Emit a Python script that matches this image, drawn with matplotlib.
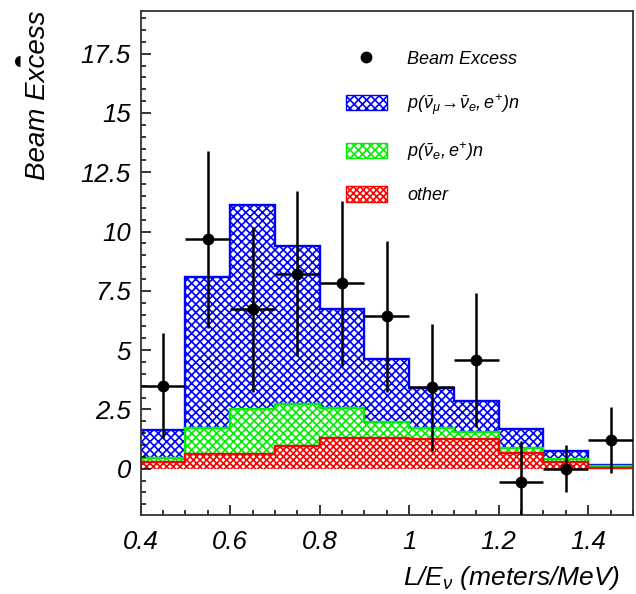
import numpy as np
import matplotlib
matplotlib.use("Agg")
import matplotlib.pyplot as plt
from matplotlib.lines import Line2D
from matplotlib.patches import Patch
from matplotlib.ticker import MultipleLocator, FormatStrFormatter

plt.rcParams['font.family'] = ['Liberation Sans', 'DejaVu Sans']
plt.rcParams['font.style'] = 'italic'
plt.rcParams['mathtext.fontset'] = 'custom'
plt.rcParams['mathtext.rm'] = 'Liberation Sans:italic'
plt.rcParams['mathtext.it'] = 'Liberation Sans:italic'
plt.rcParams['hatch.linewidth'] = 1.2

# bin edges in L/E (meters/MeV)
edges = [0.4, 0.5, 0.6, 0.7, 0.8, 0.9, 1.0, 1.1, 1.2, 1.3, 1.4, 1.5]
# expected backgrounds / signal per bin
other = [0.30, 0.63, 0.63, 0.97, 1.30, 1.30, 1.27, 1.27, 0.68, 0.30, 0.05]
nue = [0.16, 1.10, 1.90, 1.77, 1.27, 0.68, 0.46, 0.29, 0.21, 0.12, 0.05]
osc = [1.19, 6.37, 8.57, 6.66, 4.18, 2.66, 1.69, 1.31, 0.80, 0.34, 0.07]
# beam excess data
x_data = [0.45, 0.55, 0.65, 0.75, 0.85, 0.95, 1.05, 1.15, 1.25, 1.35, 1.45]
y_data = [3.5, 9.68, 6.72, 8.23, 7.83, 6.42, 3.43, 4.57, -0.55, 0.0, 1.22]
y_err = [2.22, 3.73, 3.47, 3.47, 3.48, 3.17, 2.67, 2.83, 1.7, 1.0, 1.4]

edges = np.array(edges)
centers = (edges[:-1] + edges[1:]) / 2
widths = np.diff(edges)
red_top = np.array(other)
green_top = red_top + np.array(nue)
blue_top = green_top + np.array(osc)

fig = plt.figure(figsize=(6.36, 5.94), dpi=100)
ax = fig.add_axes([140.7/636, 1-515/594, (633-140.7)/636, (515-11)/594])

layers = [(blue_top, '#0000ff', 'xxxx'), (green_top, '#00ee00', 'xxxx'), (red_top, '#ff0000', 'xxxxx')]
for top, col, h in layers:
    ax.bar(centers, top, width=widths, color='white', edgecolor=col, hatch=h, linewidth=0)
    ax.stairs(top, edges, color=col, linewidth=1.7, baseline=None)

ax.errorbar(x_data, y_data, xerr=0.05, yerr=y_err, fmt='o', color='black', ms=7.5,
            elinewidth=1.8, capsize=0, zorder=5)

ax.set_xlim(0.4, 1.5)
ax.set_ylim(-1.95, 19.3)
ax.xaxis.set_major_locator(MultipleLocator(0.2))
ax.xaxis.set_minor_locator(MultipleLocator(0.05))
ax.yaxis.set_major_locator(MultipleLocator(2.5))
ax.yaxis.set_minor_locator(MultipleLocator(0.5))
ax.xaxis.set_major_formatter(FormatStrFormatter('%g'))
ax.yaxis.set_major_formatter(FormatStrFormatter('%g'))
ax.tick_params(which='both', direction='in', top=False, right=False, labelsize=18.5, width=1.1)
ax.tick_params(which='major', length=7)
ax.tick_params(which='minor', length=3.5)
ax.tick_params(axis='x', pad=11)
ax.tick_params(axis='y', pad=7)
for s in ax.spines.values():
    s.set_linewidth(1.3)
    s.set_color('#333333')

handles = [Line2D([], [], marker='o', color='black', ls='none', ms=7.5),
           Patch(facecolor='white', edgecolor='#0000ff', hatch='xxxx', lw=1),
           Patch(facecolor='white', edgecolor='#00ee00', hatch='xxxx', lw=1),
           Patch(facecolor='white', edgecolor='#ff0000', hatch='xxxxx', lw=1)]
labels = ['Beam Excess',
          r'$p(\bar{\nu}_{\mu}\!\rightarrow\!\bar{\nu}_{e},e^{+})n$',
          r'$p(\bar{\nu}_{e},e^{+})n$',
          'other']
ax.legend(handles, labels, loc='upper left', bbox_to_anchor=(0.398, 0.94), frameon=False,
          fontsize=13, handlelength=2.3, handleheight=0.95, handletextpad=1.1,
          labelspacing=1.3, borderpad=0)

fig.text(38/636, 1-10/594, 'Beam Excess', rotation=90, ha='center', va='top', fontsize=20)
fig.text(620/636, 1-578/594, r'$L/E_{\nu}$ (meters/MeV)', ha='right', va='center', fontsize=19)
fig.add_artist(Line2D([20/636], [1-61/594], marker='o', ms=8, fillstyle='left', color='black',
                      markerfacecoloralt='none', mew=0, ls='none', transform=fig.transFigure))

fig.savefig('out.png', dpi=100)
